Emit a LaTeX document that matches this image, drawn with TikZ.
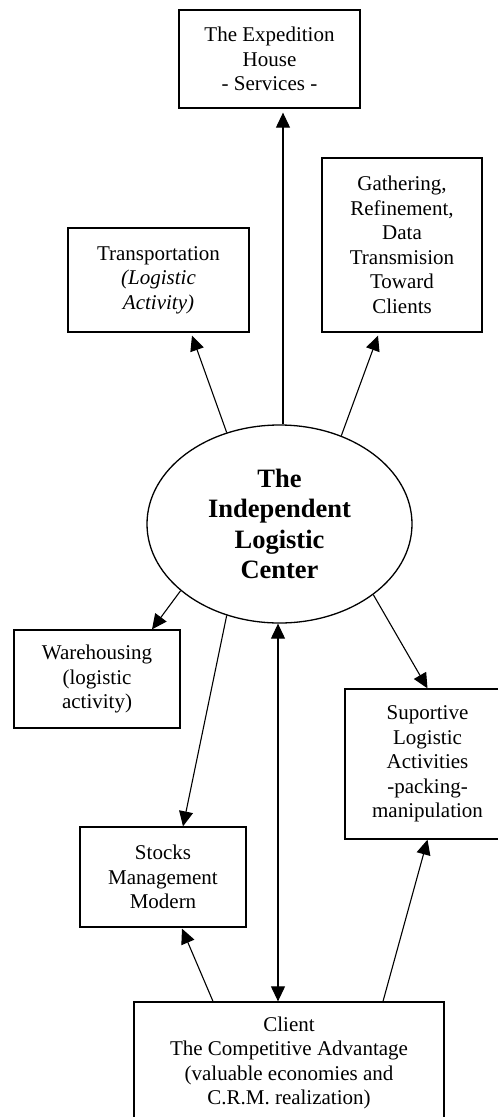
\documentclass[tikz,border=0pt]{standalone}
\usepackage{fontspec}
\setmainfont{Liberation Serif}
\usetikzlibrary{arrows.meta,calc,shapes.geometric}
\begin{document}
\begin{tikzpicture}[x=1pt,y=-1pt,
  box/.style={draw,line width=1.3pt,rectangle,align=center,inner sep=0pt,
    font=\fontsize{21}{24.5}\selectfont},
  arr/.style={line width=1.1pt,-{Triangle[length=15pt,width=14pt]}},
  darr/.style={line width=1.1pt,{Triangle[length=15pt,width=14pt]}-{Triangle[length=15pt,width=14pt]}}]
\useasboundingbox (0,0) rectangle (498,1117);
\clip (0,0) rectangle (498,1117);
\node[box,minimum width=181pt,minimum height=98pt] (exp) at (269.5,59) {The Expedition\\House\\- Services -};
\node[box,minimum width=181pt,minimum height=104pt] (trans) at (158.5,280) {Transportation\\\textit{(Logistic}\\\textit{Activity)}};
\node[box,minimum width=160pt,minimum height=174pt] (gath) at (402,245) {Gathering,\\Refinement,\\Data\\Transmision\\Toward\\Clients};
\node[draw,ellipse,line width=1.3pt,minimum width=265pt,minimum height=198pt,inner sep=0pt,align=center,
  font=\fontsize{26.5}{30.5}\selectfont\bfseries] (ell) at (279.5,524) {The\\Independent\\Logistic\\Center};
\node[box,minimum width=166pt,minimum height=98pt] (ware) at (97,679) {Warehousing\\(logistic\\activity)};
\node[box,minimum width=165pt,minimum height=150pt] (sup) at (427.5,764) {Suportive\\Logistic\\Activities\\-packing-\\manipulation};
\node[box,minimum width=166pt,minimum height=100pt] (stock) at (163,877) {Stocks\\Management\\Modern};
\node[box,minimum width=310pt,minimum height=122pt] (cli) at (289,1063) {Client\\The Competitive Advantage\\(valuable economies and\\C.R.M. realization)};
\draw[arr] ($(ell.north)+(3.5,0)$) -- ($(exp.south)+(13.5,4)$);
\draw[arr] (ell.120.6) -- ($(trans.south)+(33.5,3)$);
\draw[arr] (ell.55.5) -- ($(gath.south)+(-24,3)$);
\draw[arr] (ell.214.2) -- ($(ware.north)+(55,0)$);
\draw[arr] (ell.323.8) -- (sup.north);
\draw[arr] (ell.240.4) -- ($(stock.north)+(20,0)$);
\draw[darr] ($(ell.south)+(-1.5,0)$) -- ($(cli.north)+(-11,0)$);
\draw[arr] ($(cli.north)+(-76,0)$) -- ($(stock.south)+(19,1)$);
\draw[arr] ($(cli.north)+(94,0)$) -- (sup.south);
\end{tikzpicture}
\end{document}
